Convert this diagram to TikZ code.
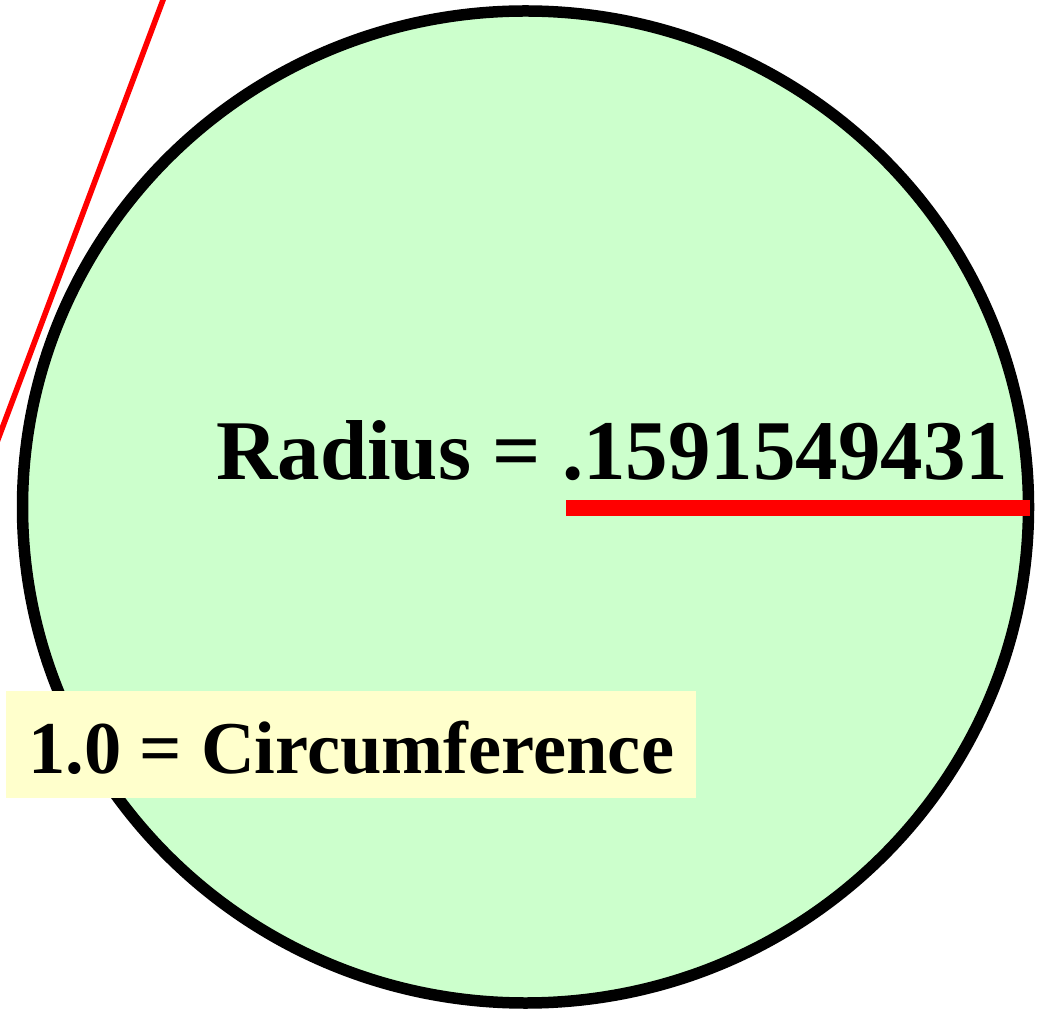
\documentclass[tikz,border=0pt]{standalone}
\usepackage{fontspec}
\setmainfont{Liberation Serif}
\usepackage{xcolor}
\usetikzlibrary{positioning}
\definecolor{circfill}{HTML}{CCFFCC}
\definecolor{notefill}{HTML}{FFFFCC}

\begin{document}
\begin{tikzpicture}[
  x=1pt, y=1pt,
  disc/.style={draw=black,fill=circfill,line width=11.5pt},
  rad/.style={draw=red,line width=16pt},
  tangent/.style={draw=red,line width=5.6pt},
  big/.style={font=\bfseries\fontsize{85}{100}\selectfont,inner sep=0pt},
  note/.style={fill=notefill,font=\bfseries\fontsize{74.5}{90}\selectfont,inner xsep=22pt,inner ysep=12pt,text height=70pt,text depth=13pt}
]
\useasboundingbox (0,0) rectangle (1043,1010);
\clip (0,0) rectangle (1043,1010);
\coordinate (ctr) at (525.5,503);
\coordinate (t1) at (179.3,1053.4);
\coordinate (t2) at (-16.3,532.6);
\draw[tangent] (t1) -- (t2);
\path[disc] (ctr) ellipse [x radius=503, y radius=496];
\coordinate (rs) at (566,502);
\coordinate (re) at (1030,502);
\draw[rad] (rs) -- (re);
\node[big,anchor=base west] (radius) at (216,530) {Radius = .1591549431};
\node[note,anchor=base west] (circum) at (6,237) {1.0 = Circumference};
\end{tikzpicture}
\end{document}
